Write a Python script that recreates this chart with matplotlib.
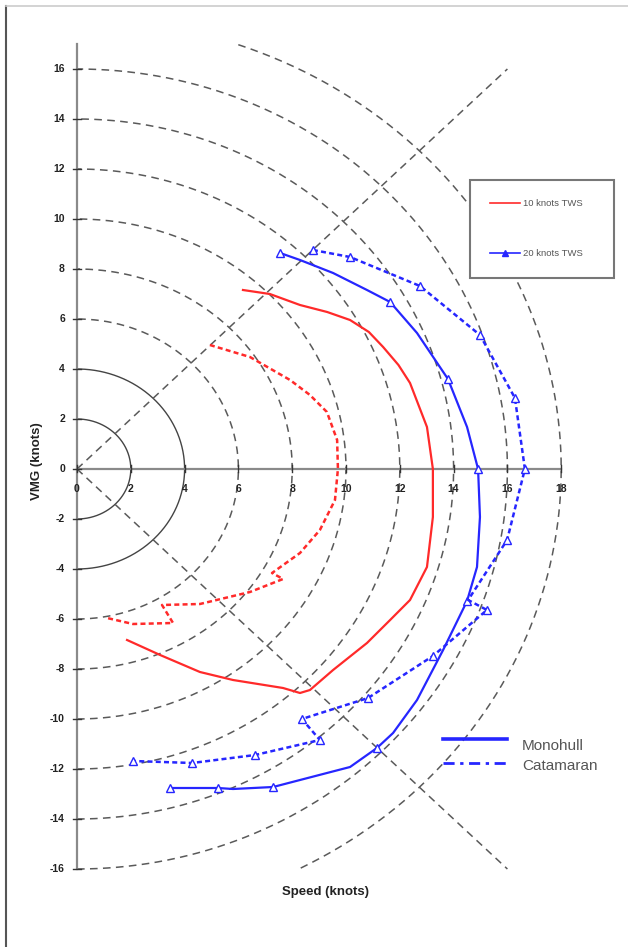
import numpy as np
import matplotlib
matplotlib.use("Agg")
import matplotlib.pyplot as plt
from matplotlib.lines import Line2D
from matplotlib.patches import Rectangle

plt.rcParams['font.family'] = ['Liberation Sans', 'DejaVu Sans']

# polar grid
radii = [2, 4, 6, 8, 10, 12, 14, 16, 18]
solid_radii = [2, 4]
x_ticks = [0, 2, 4, 6, 8, 10, 12, 14, 16, 18]
y_ticks = [-16, -14, -12, -10, -8, -6, -4, -2, 0, 2, 4, 6, 8, 10, 12, 14, 16]

# 10 knots TWS, monohull
mono10_x = [6.17, 7.17, 8.29, 9.30, 10.15, 10.85, 11.38, 11.95, 12.38, 13.01, 13.23, 13.23,
            13.01, 12.38, 11.64, 10.78, 9.52, 8.66, 8.29, 7.66, 5.80, 4.57, 3.09, 1.86]
mono10_y = [7.16, 7.00, 6.56, 6.28, 5.96, 5.48, 4.88, 4.16, 3.44, 1.68, 0.00, -1.92,
            -3.92, -5.24, -6.04, -6.96, -8.04, -8.84, -8.96, -8.76, -8.44, -8.12, -7.44, -6.84]

# 10 knots TWS, catamaran
cat10_x = [4.94, 6.43, 7.92, 8.66, 9.29, 9.67, 9.70, 9.59, 9.03, 8.29,
           7.25, 7.66, 6.43, 4.57, 3.16, 3.57, 2.08, 1.12]
cat10_y = [4.96, 4.48, 3.56, 2.96, 2.28, 1.16, 0.00, -1.24, -2.44, -3.36,
           -4.16, -4.40, -4.92, -5.40, -5.44, -6.16, -6.20, -5.96]

# 20 knots TWS, monohull
mono20_x = [7.55, 8.29, 9.52, 10.78, 11.64, 12.64, 13.79, 14.50, 14.91, 14.98, 14.87,
            14.50, 13.61, 12.64, 11.75, 11.15, 10.15, 8.29, 7.29, 5.80, 5.24, 3.46]
mono20_y = [8.64, 8.36, 7.84, 7.16, 6.68, 5.44, 3.60, 1.68, 0.00, -1.92, -3.92,
            -5.28, -7.24, -9.24, -10.56, -11.16, -11.92, -12.44, -12.72, -12.80, -12.76, -12.76]
mono20_marks = [0, 4, 6, 8, 11, 15, 18, 20, 21]

# 20 knots TWS, catamaran
cat20_x = [8.77, 10.15, 12.75, 14.98, 16.28, 16.65, 15.99, 14.54, 15.24, 13.23,
           10.82, 8.36, 9.03, 6.62, 4.28, 2.08]
cat20_y = [8.76, 8.48, 7.32, 5.36, 2.84, 0.00, -2.84, -5.24, -5.64, -7.48,
           -9.16, -10.00, -10.84, -11.44, -11.76, -11.68]
cat20_marks = [0, 1, 2, 3, 4, 5, 6, 8, 9, 10, 11, 12, 13, 14, 15]

RED = '#ff2a2a'
BLUE = '#2626ff'
GRID = '#5a5a5a'
AXIS = '#8a8a8a'

W, H = 628, 947
X0, Y0 = 77, 469      # pixel of the origin
SX, SY = 26.9, 25.0   # pixels per knot


def draw_grid(ax):
    for r in radii:
        t = np.linspace(-np.pi / 2, np.pi / 2, 400)
        x, y = r * np.cos(t), r * np.sin(t)
        keep = (y >= -16) & (y <= 17)
        if r in solid_radii:
            ax.plot(x[keep], y[keep], color='#444444', lw=1.0)
        else:
            ax.plot(x[keep], y[keep], color=GRID, lw=1.1, dashes=(5, 3.5))
    ax.plot([0, 16], [0, 16], color=GRID, lw=1.1, dashes=(5, 3.5))
    ax.plot([0, 16], [0, -16], color=GRID, lw=1.1, dashes=(5, 3.5))

    ax.plot([0, 0], [-16, 17], color=AXIS, lw=1.6)
    ax.plot([0, 18], [0, 0], color=AXIS, lw=1.6)
    for v in x_ticks:
        ax.plot([v, v], [-0.14, 0.14], color='#333333', lw=1.0)
        ax.text(v, -0.78, str(v), ha='center', va='center',
                fontsize=7.5, fontweight='bold', color='#222222')
    for v in y_ticks:
        ax.plot([-0.15, 0.15], [v, v], color='#333333', lw=1.0)
        ax.text(-0.45, v, str(v), ha='right', va='center',
                fontsize=7.5, fontweight='bold', color='#222222')

    ax.text(-1.49, 0.3, 'VMG (knots)', rotation=90, ha='center', va='center',
            fontsize=9.5, fontweight='bold', color='#222222')
    ax.text(9.22, -16.92, 'Speed (knots)', ha='center', va='center',
            fontsize=9.5, fontweight='bold', color='#222222')


def draw_curves(ax):
    ax.plot(mono10_x, mono10_y, color=RED, lw=1.6, solid_joinstyle='round')
    ax.plot(cat10_x, cat10_y, color=RED, lw=1.8, dashes=(2, 1.3))
    ax.plot(mono20_x, mono20_y, color=BLUE, lw=1.6, solid_joinstyle='round',
            marker='^', markevery=mono20_marks,
            markersize=6, mfc='white', mec=BLUE, mew=1.0)
    ax.plot(cat20_x, cat20_y, color=BLUE, lw=1.8, dashes=(2, 1.3), marker='^',
            markevery=cat20_marks, markersize=6, mfc='white', mec=BLUE, mew=1.0)


def draw_legends(ax):
    ax.add_patch(Rectangle((14.61, 7.64), 5.35, 3.92, facecolor='white',
                           edgecolor='#777777', lw=1.5, zorder=5))
    ax.plot([15.35, 16.47], [10.64, 10.64], color=RED, lw=1.2, zorder=6)
    ax.text(16.58, 10.64, '10 knots TWS', ha='left', va='center',
            fontsize=6.8, color='#555555', zorder=6)
    ax.plot([15.35, 16.47], [8.64, 8.64], color=BLUE, lw=1.2, zorder=6)
    ax.plot([15.91], [8.64], color=BLUE, marker='^', markersize=4, zorder=6)
    ax.text(16.58, 8.64, '20 knots TWS', ha='left', va='center',
            fontsize=6.8, color='#555555', zorder=6)

    ax.plot([13.61, 15.99], [-10.8, -10.8], color=BLUE, lw=2.6)
    ax.text(16.54, -11.08, 'Monohull', ha='left', va='center',
            fontsize=11, color='#555555')
    ax.plot([13.61, 15.99], [-11.76, -11.76], color=BLUE, lw=2.0,
            dashes=(4, 2, 1.2, 2))
    ax.text(16.54, -11.88, 'Catamaran', ha='left', va='center',
            fontsize=11, color='#555555')


def main():
    fig = plt.figure(figsize=(W / 100, H / 100), dpi=100)
    ax = fig.add_axes([0, 0, 1, 1])
    ax.set_xlim(-X0 / SX, (W - X0) / SX)
    ax.set_ylim((Y0 - H) / SY, Y0 / SY)
    ax.axis('off')

    draw_grid(ax)
    draw_curves(ax)
    draw_legends(ax)

    fig.add_artist(Line2D([6 / W, 6 / W], [0, 1 - 6 / H], transform=fig.transFigure,
                          color='#555555', lw=1.5))
    fig.add_artist(Line2D([6 / W, 1], [1 - 6 / H, 1 - 6 / H], transform=fig.transFigure,
                          color='#cccccc', lw=1.2))
    fig.savefig('out.png', dpi=100)
    plt.close(fig)


if __name__ == '__main__':
    main()
